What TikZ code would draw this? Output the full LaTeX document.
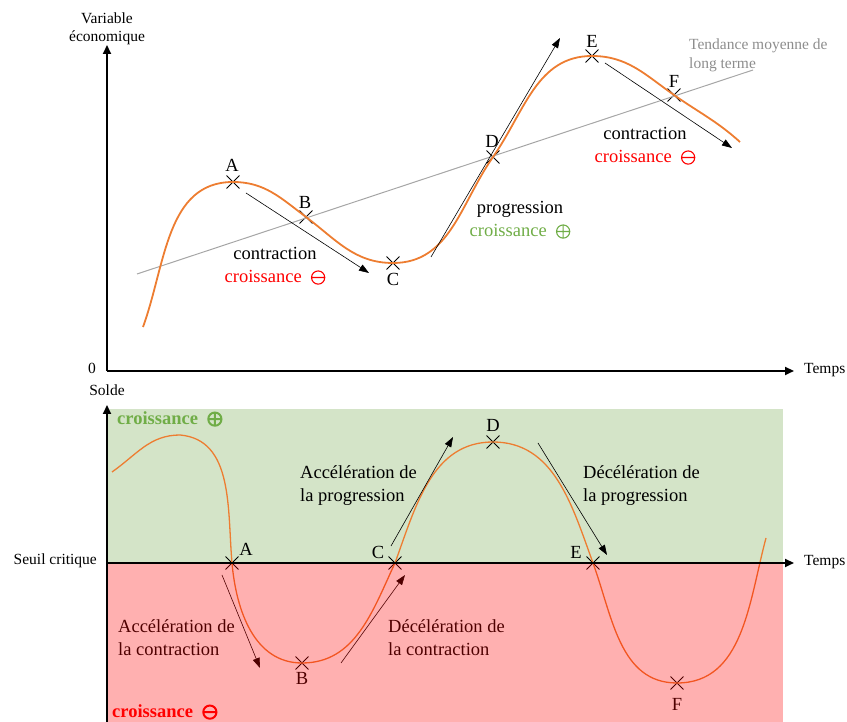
\documentclass[tikz,border=0pt]{standalone}
\usepackage{fontspec}
\setmainfont{Liberation Serif}
\usetikzlibrary{arrows.meta,shapes.misc,positioning}
\definecolor{orangec}{HTML}{ED7D31}
\definecolor{vertc}{HTML}{70AD47}
\definecolor{fondvert}{RGB}{212,228,200}
\definecolor{grisc}{HTML}{A6A6A6}
\newcommand{\moins}[1][1.1pt]{\tikz[baseline=-5pt]{\draw[line width=#1] (0pt,0pt) circle[radius=6.6pt] (-6.6pt,0pt) -- (6.6pt,0pt);}}
\newcommand{\plus}[1][1.1pt]{\tikz[baseline=-5pt]{\draw[line width=#1] (0pt,0pt) circle[radius=6.6pt] (-6.6pt,0pt) -- (6.6pt,0pt) (0pt,-6.6pt) -- (0pt,6.6pt);}}
\tikzset{
  croix/.style={cross out,draw,line width=0.9pt,minimum size=12pt,inner sep=0pt},
  lbl/.style={inner sep=0pt,font=\fontsize{18.5}{22}\selectfont},
  txt/.style={inner sep=0pt,align=left,anchor=west,font=\fontsize{18.5}{23}\selectfont},
  ctxt/.style={inner sep=0pt,align=center,font=\fontsize{18.5}{23}\selectfont},
  petit/.style={inner sep=0pt,font=\fontsize{15.5}{18.5}\selectfont},
  axe/.style={line width=2pt,-{Triangle[length=9pt,width=8pt]}},
  fleche/.style={line width=0.6pt,-{Triangle[length=10pt,width=7pt]}},
  courbe/.style={orangec,line width=1.8pt},
  courbebas/.style={orangec,line width=1.3pt}
}
\begin{document}
\begin{tikzpicture}[x=1pt,y=1pt]
  \useasboundingbox (0,0) rectangle (847,722);
  \fill[fondvert] (107,159) rectangle (783,313);
  \coordinate (h0) at (143,395);
  \coordinate (h1) at (740,580);
  \coordinate (t0) at (137,448);
  \coordinate (t1) at (753,652);
  \draw
    (233,540) node[croix] (hA){}
    (306,505) node[croix] (hB){}
    (393,459) node[croix] (hC){}
    (493,565) node[croix] (hD){}
    (592,666) node[croix] (hE){}
    (674,627) node[croix] (hF){};
  \draw[grisc,line width=1pt] (t0) -- (t1);
  \draw[courbe] (h0) to[out=70,in=180] (hA.center) to[out=0,in=143] (hB.center)
    to[out=-37,in=180] (hC.center) to[out=0,in=235] (hD.center)
    to[out=55,in=180] (hE.center) to[out=0,in=145] (hF.center) to[out=-35,in=138] (h1);
  \draw
    (232,557) node[lbl] (lhA){A}
    (305,520) node[lbl] (lhB){B}
    (393,443) node[lbl] (lhC){C}
    (492,581) node[lbl] (lhD){D}
    (592,681) node[lbl] (lhE){E}
    (674,641) node[lbl] (lhF){F};
  \coordinate (f1a) at (246,529);
  \coordinate (f1b) at (369,449);
  \coordinate (f2a) at (431,465);
  \coordinate (f2b) at (560,684);
  \coordinate (f3a) at (605,659);
  \coordinate (f3b) at (732,574);
  \begin{scope}[fleche]
    \draw (f1a) to (f1b);
    \draw (f2a) to (f2b);
    \draw (f3a) to (f3b);
  \end{scope}
  \node[ctxt] (contr1) at (275,456) {contraction\\\textcolor{red}{croissance\ \ \moins}};
  \node[ctxt] (progr) at (520,502) {progression\\\textcolor{vertc}{croissance\ \ \plus}};
  \node[ctxt] (contr2) at (645,576) {contraction\\\textcolor{red}{croissance\ \ \moins}};
  \node[petit,align=left,anchor=west,text=grisc!85!black,font=\fontsize{15.5}{19}\selectfont] (tend) at (689,667) {Tendance moyenne de\\long terme};
  \coordinate (b0) at (112,250);
  \coordinate (bp) at (180,287);
  \coordinate (b1) at (766,184);
  \draw
    (232,159) node[croix] (bA){}
    (302,59) node[croix] (bB){}
    (395,159) node[croix] (bC){}
    (493,280) node[croix] (bD){}
    (593,159) node[croix] (bE){}
    (677,39) node[croix] (bF){};
  \draw[courbebas] (b0) to[out=35,in=180] (bp) to[out=-5,in=95] (bA.center)
    to[out=-85,in=180] (bB.center) to[out=0,in=-115] (bC.center)
    to[out=70,in=180] (bD.center) to[out=0,in=110] (bE.center)
    to[out=-70,in=180] (bF.center) to[out=0,in=-105] (b1);
  \draw
    (246,173) node[lbl] (lbA){A}
    (302,44) node[lbl] (lbB){B}
    (378,170) node[lbl] (lbC){C}
    (493,297) node[lbl] (lbD){D}
    (576,170) node[lbl] (lbE){E}
    (677,18) node[lbl] (lbF){F};
  \coordinate (g1a) at (222,147);
  \coordinate (g1b) at (260,54);
  \coordinate (g2a) at (341,59);
  \coordinate (g2b) at (405,147);
  \coordinate (g3a) at (391,176);
  \coordinate (g3b) at (453,285);
  \coordinate (g4a) at (538,279);
  \coordinate (g4b) at (607,167);
  \begin{scope}[fleche]
    \draw (g1a) to (g1b);
    \draw (g2a) to (g2b);
    \draw (g3a) to (g3b);
    \draw (g4a) to (g4b);
  \end{scope}
  \node[txt] (accp) at (300,236) {Accélération de\\la progression};
  \node[txt] (decp) at (583,236) {Décélération de\\la progression};
  \node[txt] (accc) at (118,84) {Accélération de\\la contraction};
  \node[txt] (decc) at (388,84) {Décélération de\\la contraction};
  \fill[red,opacity=0.31] (107,0) rectangle (783,159);
  \coordinate (O) at (107,351);
  \coordinate (Oy) at (107,677);
  \coordinate (Ox) at (794,351);
  \coordinate (S) at (107,159);
  \coordinate (Sb) at (107,0);
  \coordinate (Sy) at (107,317);
  \coordinate (Sx) at (794,159);
  \begin{scope}[axe]
    \draw (O) to (Oy);
    \draw (O) to (Ox);
    \draw (Sb) to (Sy);
    \draw (S) to (Sx);
  \end{scope}
  \node[petit,align=center,font=\fontsize{15.5}{18}\selectfont] (varia) at (107,693) {Variable\\économique};
  \node[petit] (zero) at (92,354) {0};
  \node[petit,anchor=west] (temps1) at (804,352) {Temps};
  \node[petit,anchor=west] (temps2) at (804,160) {Temps};
  \node[petit] (solde) at (107,332) {Solde};
  \node[petit,anchor=east] (seuil) at (97,161) {Seuil critique};
  \node[lbl,anchor=west,text=vertc,font=\fontsize{18.5}{22}\bfseries] (crp) at (117,303) {croissance\ \ \plus[2pt]};
  \node[lbl,anchor=west,text=red,font=\fontsize{18.5}{22}\bfseries] (crm) at (112,10) {croissance\ \ \moins[2pt]};
\end{tikzpicture}
\end{document}
